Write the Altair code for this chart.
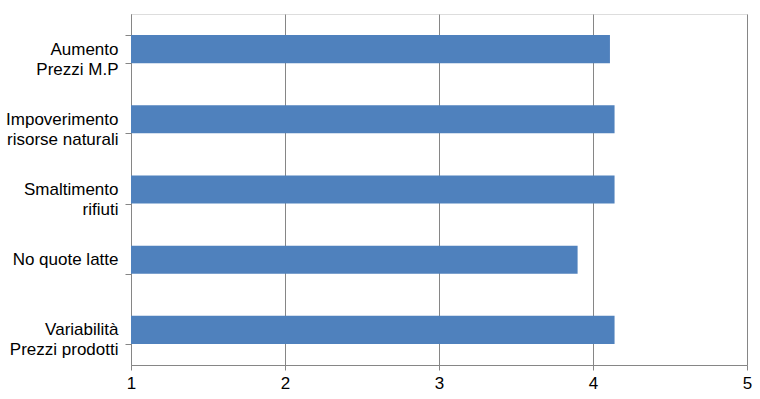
import altair as alt
import pandas as pd

categories = [
    "Aumento\nPrezzi M.P",
    "Impoverimento\nrisorse naturali",
    "Smaltimento\nrifiuti",
    "No quote latte",
    "Variabilità\nPrezzi prodotti",
]
values = [4.11, 4.14, 4.14, 3.90, 4.14]
x_ticks = [1, 2, 3, 4, 5]

df = pd.DataFrame({"cat": categories, "val": values})

FONT = "Liberation Sans"
GRAY = "#868686"

chart = (
    alt.Chart(df)
    .mark_bar(color="#4F81BD")
    .encode(
        y=alt.Y(
            "cat:N",
            sort=None,
            title=None,
            scale=alt.Scale(paddingInner=0.6, paddingOuter=0.3),
            axis=alt.Axis(
                labelExpr="split(datum.label, '\\n')",
                labelFont=FONT,
                labelFontSize=17,
                labelLineHeight=20,
                labelColor="#000000",
                labelPadding=7,
                labelLimit=200,
                tickBand="extent",
                tickSize=6,
                tickColor=GRAY,
                domainColor=GRAY,
                grid=False,
            ),
        ),
        x=alt.X(
            "val:Q",
            title=None,
            scale=alt.Scale(domain=[1, 5], zero=False, nice=False),
            axis=alt.Axis(
                values=x_ticks,
                format="d",
                labelFont=FONT,
                labelFontSize=17,
                labelColor="#000000",
                labelPadding=5,
                tickSize=5,
                tickColor=GRAY,
                domainColor=GRAY,
                gridColor=GRAY,
                gridWidth=1,
                labelFlush=False,
            ),
        ),
        x2=alt.datum(1),
    )
    .properties(
        width=616,
        height=351,
        padding={"left": 131, "top": 14, "right": 13, "bottom": 34},
        autosize=alt.AutoSizeParams(type="none"),
    )
    .configure_view(stroke=None)
    .configure(background="#ffffff")
)

chart.save("out.html", embed_options={"renderer": "svg", "actions": False})
